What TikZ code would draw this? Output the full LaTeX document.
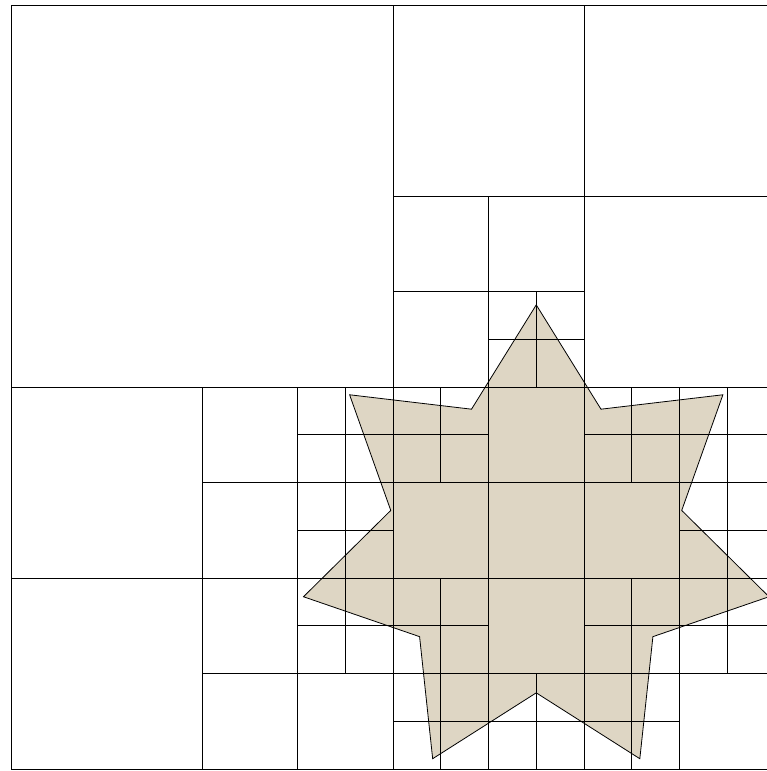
\documentclass[tikz,border=0pt]{standalone}
\usetikzlibrary{calc}
\definecolor{starbeige}{RGB}{222,214,196}
\tikzset{
  cell/.style={draw=black, line width=0.9pt, xstep=47.75pt, ystep=47.75pt},
  starfill/.style={fill=starbeige, draw=none},
  starline/.style={draw=black, line width=0.8pt, line join=miter},
}
\begin{document}
\begin{tikzpicture}[x=47.75pt, y=-47.75pt]
  \useasboundingbox (-0.2304,-0.1047) rectangle (15.832,16.042);
  \clip (-0.2304,-0.1047) rectangle (15.832,16.042);
  % star fill
  \fill[starfill] plot[samples at={0,...,13}, variable=\k]
    ({11+(4.0625+0.9375*cos(\k*180))*cos(90+\k*180/7)},
     {11.28-(4.0625+0.9375*cos(\k*180))*sin(90+\k*180/7)}) -- cycle;
  % quadtree leaves, size 8 and 4
  \draw[cell] (0,0) rectangle (8,8);
  \foreach \x/\y in {8/0,12/0,12/4,0/8,0/12}
    \draw[cell] (\x,\y) rectangle ++(4,4);
  % size 2
  \foreach \x/\y in {8/4,10/4,8/6,4/8,4/10,4/12,4/14,6/14,10/8,8/10,10/10,12/10,10/12,14/14}
    \draw[cell] (\x,\y) rectangle ++(2,2);
  % size 1 blocks
  \draw[cell] (10,6) grid (12,8);
  \draw[cell] (6,8) grid (8,14);
  \draw[cell] (8,8) grid (10,10);
  \draw[cell] (12,8) grid (16,10);
  \draw[cell] (14,10) grid (16,12);
  \draw[cell] (8,12) grid (10,16);
  \draw[cell] (10,14) grid (12,16);
  \draw[cell] (12,12) grid (16,14);
  \draw[cell] (12,14) grid (14,16);
  % outer square
  \draw[cell] (0,0) rectangle (16,16);
  % star outline
  \draw[starline] plot[samples at={0,...,13}, variable=\k]
    ({11+(4.0625+0.9375*cos(\k*180))*cos(90+\k*180/7)},
     {11.28-(4.0625+0.9375*cos(\k*180))*sin(90+\k*180/7)}) -- cycle;
\end{tikzpicture}
\end{document}
